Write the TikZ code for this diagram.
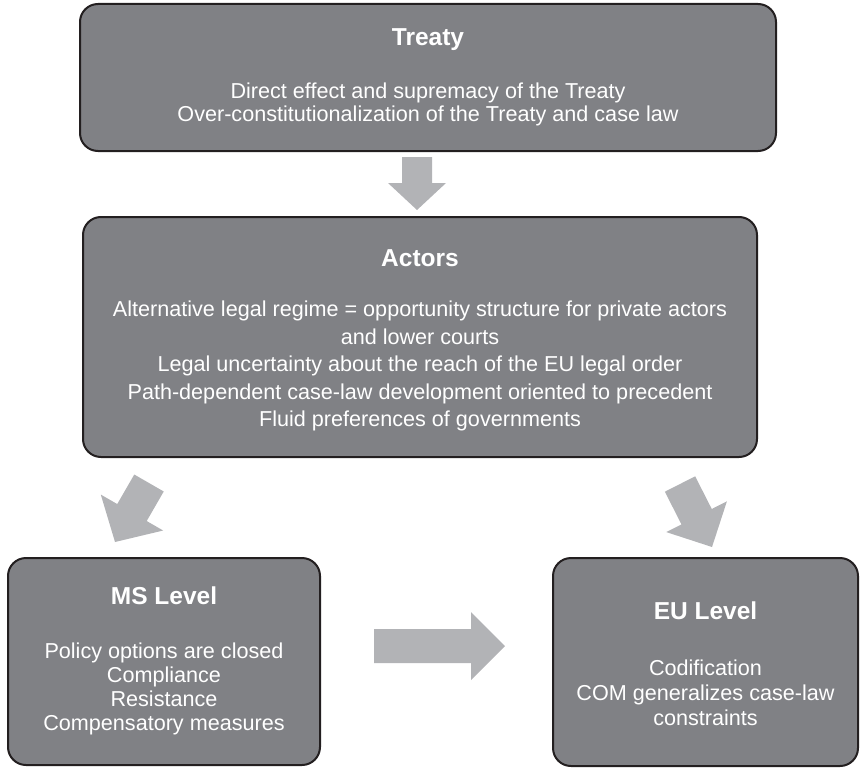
\documentclass[tikz,border=0pt]{standalone}
\usepackage{fontspec}
\setmainfont{Liberation Sans}
\usepackage{tikz}
\usetikzlibrary{calc}
\definecolor{boxgray}{RGB}{128,129,133}
\definecolor{boxline}{RGB}{35,31,32}
\definecolor{arrowgray}{RGB}{178,179,182}

\begin{document}
\begin{tikzpicture}[x=1pt,y=-1pt,
    levelbox/.style={draw=boxline, line width=2pt, fill=boxgray, rounded corners=18pt, inner sep=0pt},
    boxtitle/.style={text=white, inner sep=0pt, font=\fontsize{24.5}{28}\selectfont\bfseries},
    boxtext/.style={text=white, inner sep=0pt, align=center, font=\fontsize{21.6}{#1}\selectfont},
    boxtext/.default=24]

% Block arrow macro
% Arguments: from, to, shaft half-width, head half-width, head length
\def\blockarrow#1#2#3#4#5{
    \coordinate (hb) at ($(#2)!#5!(#1)$);
    \fill[arrowgray] ($(#1)!#3!90:(#2)$) -- ($(hb)!#3!90:(#2)$) -- ($(hb)!#4!90:(#2)$)
        -- (#2) -- ($(hb)!#4!-90:(#2)$) -- ($(hb)!#3!-90:(#2)$) -- ($(#1)!#3!-90:(#2)$) -- cycle;
}

\useasboundingbox (0,0) rectangle (861,768);

% Boxes
\node[levelbox, minimum width=696pt, minimum height=147pt] (treaty) at (428,77.5) {};
\node[levelbox, minimum width=674pt, minimum height=240pt] (actors) at (420,337) {};
\node[levelbox, minimum width=312pt, minimum height=207pt] (ms) at (164,661.5) {};
\node[levelbox, minimum width=305pt, minimum height=208pt] (eu) at (705.5,662) {};

% Titles
\node[boxtitle] (treatytitle) at ($(treaty.north)+(0,37)$) {Treaty};
\node[boxtitle] (actorstitle) at ($(actors.north)+(0,42)$) {Actors};
\node[boxtitle] (mstitle) at ($(ms.north)+(0,39)$) {MS Level};
\node[boxtitle] (eutitle) at ($(eu.north)+(0,54)$) {EU Level};

% Texts
\node[boxtext=23.5] (treatytext) at ($(treaty.north)+(0,101.5)$)
    {Direct effect and supremacy of the Treaty\\Over-constitutionalization of the Treaty and case law};
\node[boxtext=27.5] (actorstext) at ($(actors.north)+(0,150)$)
    {Alternative legal regime = opportunity structure for private actors\\and lower courts\\Legal uncertainty about the reach of the EU legal order\\Path-dependent case-law development oriented to precedent\\Fluid preferences of governments};
\node[boxtext=24] (mstext) at ($(ms.north)+(0,132)$)
    {Policy options are closed\\Compliance\\Resistance\\Compensatory measures};
\node[boxtext=25] (eutext) at ($(eu.north)+(0,136)$)
    {Codification\\COM generalizes case-law\\constraints};

% Arrow ends
\coordinate (downfrom) at (417,157);
\coordinate (downto) at (417,210);
\coordinate (msfrom) at (149,483);
\coordinate (msto) at (115,542);
\coordinate (eufrom) at (680,484);
\coordinate (euto) at (712,547);
\coordinate (sidefrom) at (374,646);
\coordinate (sideto) at (505,646);

% Arrows
\blockarrow{downfrom}{downto}{15pt}{29pt}{27pt}
\blockarrow{msfrom}{msto}{17pt}{36pt}{34pt}
\blockarrow{eufrom}{euto}{17pt}{34pt}{34pt}
\blockarrow{sidefrom}{sideto}{17pt}{34pt}{34pt}

\end{tikzpicture}
\end{document}
